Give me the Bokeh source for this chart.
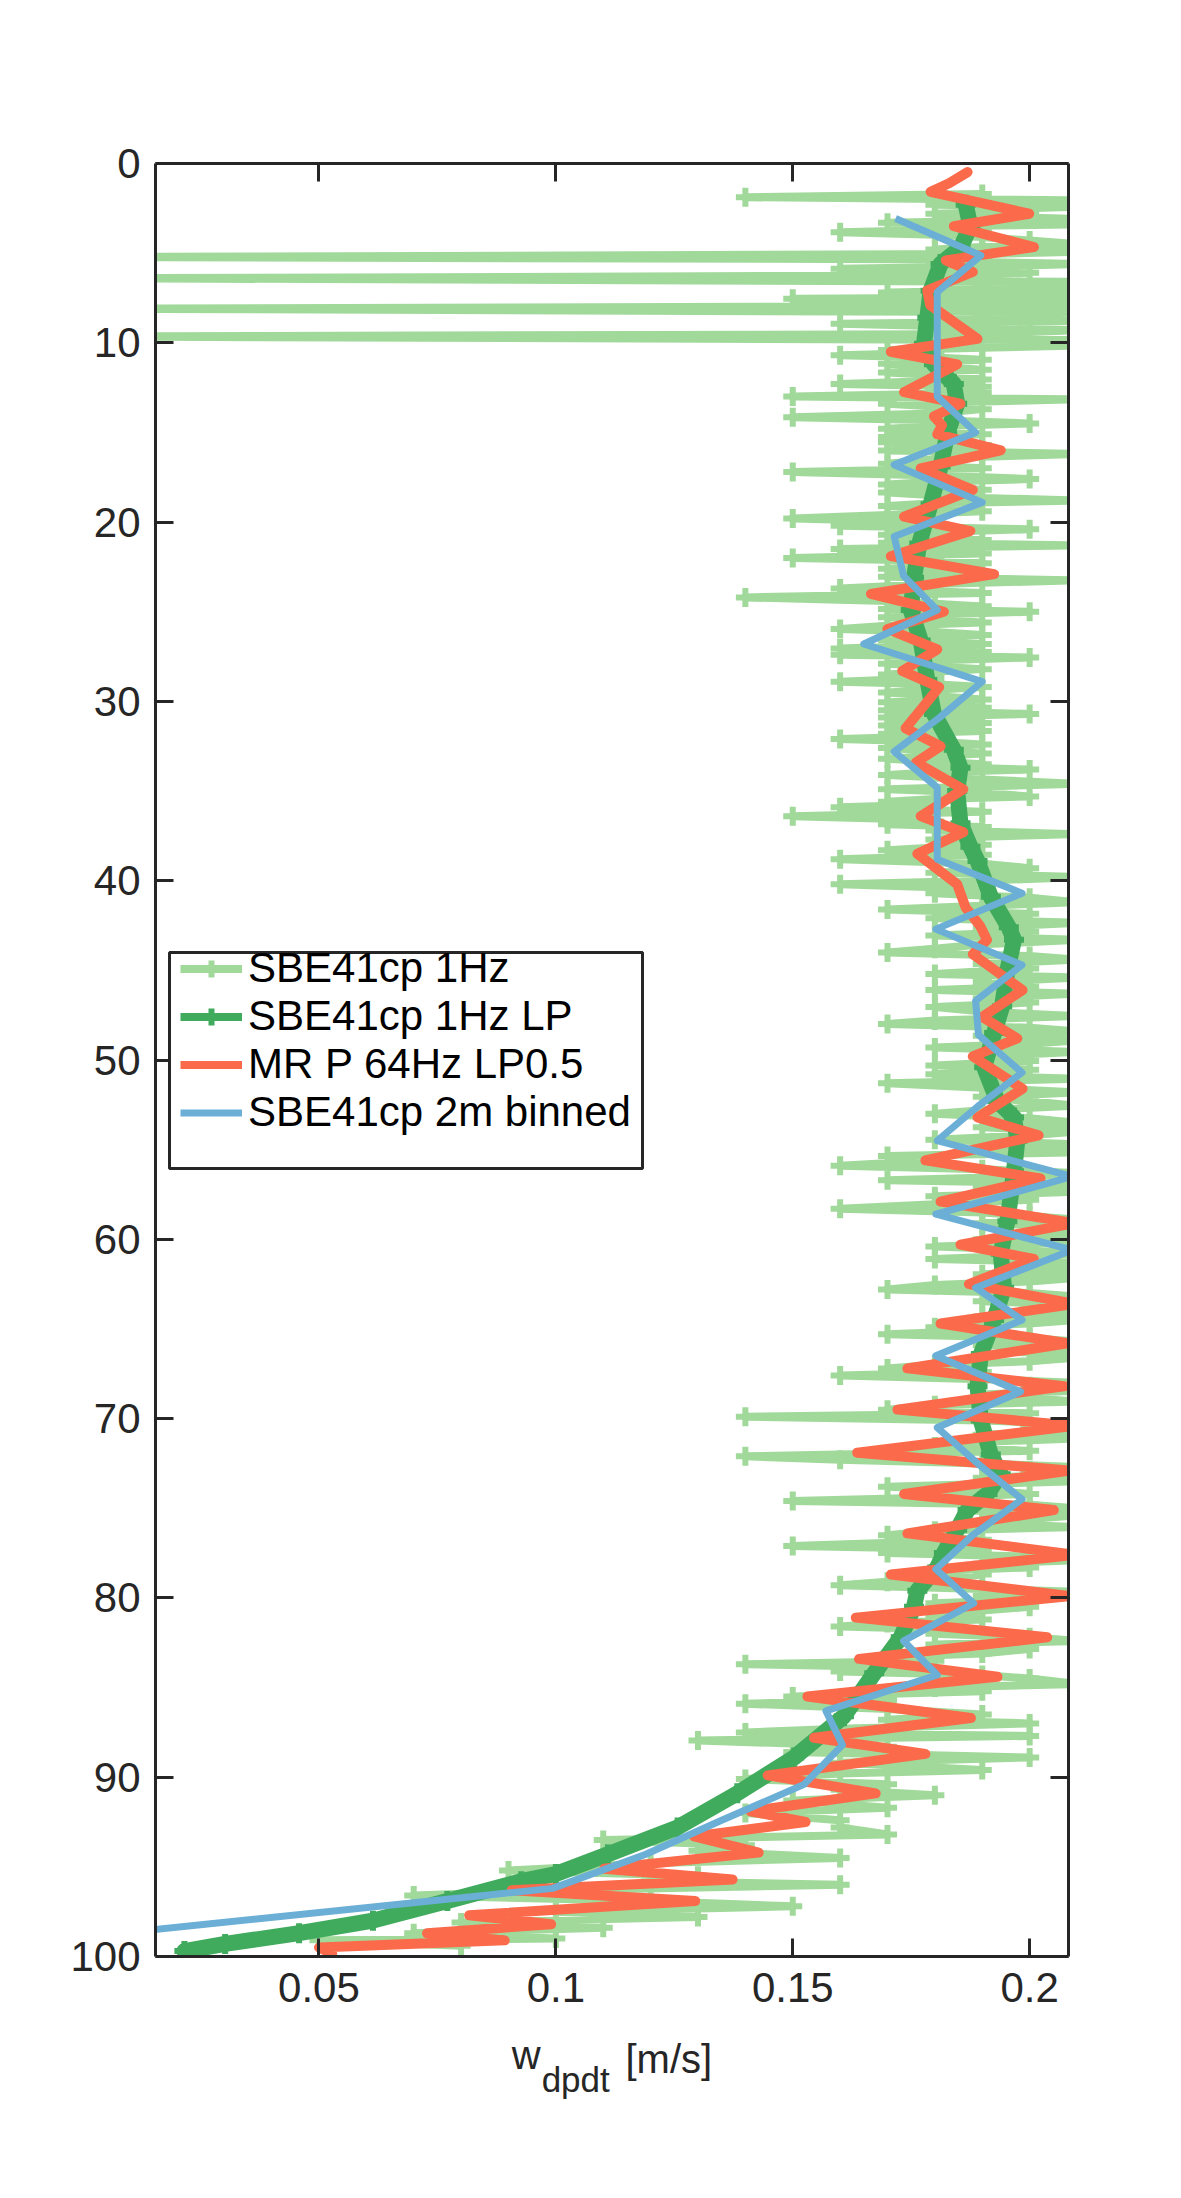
from bokeh.plotting import figure
from bokeh.layouts import column
from bokeh.models import (Range1d, FixedTicker, LinearAxis, CustomJSTickFormatter,
                          Legend, LegendItem, BoxAnnotation, ColumnDataSource)
from bokeh.core.properties import value
from bokeh.embed import file_html
from bokeh.resources import INLINE

# ---------------- data ----------------
# SBE41cp 1Hz : depth [m] and w_dpdt [m/s]  (0.0 = far off the left edge)
LG_DEPTH = [
    1.70, 1.88, 2.06, 2.18, 2.30, 2.42, 2.55, 2.68, 2.80, 2.95,
    3.10, 3.20, 3.30, 3.40, 3.50, 3.66, 3.83, 3.97, 4.10, 4.30,
    4.50, 4.65, 4.80, 4.92, 5.05, 5.22, 5.35, 5.45, 5.60, 5.75,
    5.87, 6.00, 6.10, 6.25, 6.40, 6.60, 6.72, 6.85, 7.02, 7.20,
    7.32, 7.45, 7.55, 7.65, 7.75, 7.85, 7.95, 8.10, 8.30, 8.45,
    8.60, 8.78, 8.94, 9.07, 9.20, 9.30, 9.40, 9.52, 9.65, 9.85,
    10.15, 10.28, 10.40, 10.55, 10.70, 10.82, 10.95, 11.17, 11.33, 11.50,
    11.65, 11.80, 12.05, 12.30, 12.45, 12.60, 12.80, 13.00, 13.15, 13.40,
    13.55, 13.70, 13.95, 14.15, 14.32, 14.50, 14.65, 14.80, 14.95, 15.10,
    15.25, 15.40, 15.55, 15.70, 15.85, 16.00, 16.20, 16.35, 16.50, 16.75,
    17.00, 17.20, 17.40, 17.60, 17.75, 17.90, 18.05, 18.20, 18.35, 18.50,
    18.65, 18.80, 18.95, 19.10, 19.25, 19.40, 19.60, 19.80, 20.00, 20.20,
    20.40, 20.55, 20.70, 20.85, 21.00, 21.15, 21.30, 21.50, 21.75, 22.00,
    22.15, 22.30, 22.45, 22.60, 22.75, 22.90, 23.05, 23.25, 23.45, 23.70,
    23.95, 24.20, 24.40, 24.55, 24.70, 24.85, 25.00, 25.15, 25.30, 25.45,
    25.60, 25.78, 25.96, 26.13, 26.30, 26.45, 26.60, 26.80, 27.05, 27.25,
    27.40, 27.55, 27.72, 27.90, 28.05, 28.20, 28.35, 28.50, 28.70, 28.90,
    29.05, 29.20, 29.35, 29.50, 29.70, 29.90, 30.05, 30.20, 30.35, 30.50,
    30.70, 30.90, 31.05, 31.20, 31.35, 31.50, 31.65, 31.80, 31.95, 32.10,
    32.25, 32.40, 32.60, 32.75, 32.90, 33.05, 33.20, 33.35, 33.50, 33.65,
    33.80, 33.95, 34.10, 34.35, 34.60, 34.75, 34.90, 35.10, 35.30, 35.45,
    35.60, 35.75, 35.90, 36.15, 36.40, 36.55, 36.70, 36.85, 37.00, 37.20,
    37.40, 37.55, 37.70,
    38.00, 38.30, 38.55, 38.80, 39.05, 39.30, 39.55, 39.80, 40.00, 40.20,
    40.45, 40.70, 40.95, 41.20, 41.40, 41.60, 41.85, 42.10, 42.35, 42.60,
    42.85, 43.05, 43.30, 43.55, 43.80, 44.00, 44.20, 44.40, 44.65, 44.90,
    45.20, 45.40, 45.65, 45.90, 46.10, 46.30, 46.55, 46.80, 47.05, 47.30,
    47.55, 47.80, 47.99, 48.20, 48.40, 48.65, 48.90, 49.10, 49.30, 49.55,
    49.80, 50.05, 50.30, 50.55, 50.80, 51.05, 51.30, 51.55, 51.80, 52.05,
    52.30, 52.55, 52.80, 53.00, 53.25, 53.50, 53.75, 54.00, 54.20, 54.45,
    54.70, 54.95, 55.15, 55.35, 55.60, 55.90, 56.10, 56.30, 56.50, 56.70,
    56.90, 57.10, 57.35, 57.60, 57.80, 58.05, 58.30, 58.50, 58.70, 58.90,
    59.10, 59.30, 59.55, 59.80, 60.00, 60.20, 60.40, 60.60, 60.80, 61.10,
    61.30, 61.50, 61.75, 61.95, 62.15, 62.35, 62.55, 62.80, 63.00, 63.20,
    63.45, 63.65, 63.85, 64.10, 64.30, 64.50, 64.70, 64.90, 65.10, 65.30,
    65.50, 65.70, 65.90, 66.10, 66.35, 66.60, 66.80, 67.00, 67.20, 67.40,
    67.60, 67.80, 68.00, 68.20, 68.45, 68.65, 68.85, 69.05, 69.25, 69.50,
    69.70, 69.90, 70.10, 70.30, 70.50, 70.70, 70.90, 71.10, 71.30, 71.55,
    71.80, 72.10, 72.30, 72.50, 72.70, 72.90, 73.10, 73.30, 73.50, 73.80,
    74.00, 74.20, 74.40, 74.60, 74.80, 75.00, 75.20, 75.40, 75.60, 75.85,
    76.05, 76.25, 76.50, 76.75, 77.10, 77.30, 77.50, 77.70, 77.90, 78.10,
    78.30, 78.50, 78.70, 78.95, 79.10, 79.30, 79.50, 79.65, 79.90, 80.10,
    80.30, 80.50, 80.70, 80.95, 81.20, 81.40, 81.60, 81.80, 82.00, 82.20,
    82.40, 82.60, 82.85, 83.10, 83.30, 83.50, 83.70, 83.90, 84.10, 84.30,
    84.50, 84.80, 85.00, 85.20, 85.50, 85.70, 85.90,
    86.20, 86.50, 86.80, 87.00, 87.30, 87.50, 87.70, 87.95, 88.30, 88.60,
    88.90, 89.20, 89.60, 89.80, 90.10, 90.40, 90.70, 91.00, 91.30, 91.70,
    92.00, 92.40, 92.80, 93.20, 93.50, 93.80, 94.10, 94.50, 94.80, 95.20,
    95.50, 95.80, 96.00, 96.30, 96.60, 96.90, 97.20, 97.50, 97.80, 98.10,
    98.40, 98.70, 99.00, 99.10, 99.40,
]
LG_W = [
    .19, .14, .21, .19, .18, .21, .19, .20, .18, .19,
    .21, .19, .17, .21, .18, .19, .16, .18, .19, .20,
    .21, .19, .18, .21, .19, 0.0, .19, .18, .21, .19,
    .16, .19, .20, .18, 0.0, .21, .19, .18, .21, .17,
    .19, .21, .15, .18, .19, .21, .20, 0.0, .21, .19,
    .18, .21, .16, .18, .19, .21, .20, .18, 0.0, .21,
    .21, .19, .17, .18, .16, .18, .19, .17, .18, .19,
    .17, .18, .19, .16, .19, .18, .19, .15, .21, .17,
    .18, .19, .18, .15, .18, .20, .18, .17, .18, .19,
    .17, .18, .17, .19, .18, .17, .21, .19, .18, .17,
    .19, .15, .18, .20, .18, .17, .18, .19, .17, .18,
    .19, .21, .18, .17, .18, .19, .17, .15, .18, .16,
    .20, .18, .17, .18, .19, .17, .21, .16, .19, .15,
    .18, .19, .18, .17, .18, .19, .17, .21, .18, .16,
    .19, .14, .17, .18, .19, .17, .20, .18, .17, .18,
    .19, .17, .16, .18, .19, .18, .17, .19, .16, .19,
    .16, .20, .18, .17, .18, .19, .18, .17, .18, .16,
    .18, .19, .18, .17, .18, .19, .17, .18, .19, .17,
    .20, .17, .18, .19, .17, .18, .19, .17, .18, .16,
    .18, .19, .17, .18, .19, .18, .17, .18, .19, .18,
    .20, .18, .17, .19, .21, .19, .17, .19, .20, .18,
    .17, .18, .16, .19, .15, .17, .18, .17, .19, .18,
    .21, .19, .18,
    .19, .17, .19, .16, .19, .20, .18, .21, .19, .16,
    .19, .18, .20, .21, .19, .17, .20, .18, .21, .19,
    .20, .18, .21, .19, .18, .17, .20, .21, .19, .20,
    .18, .21, .19, .20, .18, .21, .19, .20, .18, .19,
    .21, .18, .17, .20, .21, .19, .21, .20, .18, .21,
    .19, .20, .18, .20, .18, .21, .17, .19, .21, .19,
    .20, .21, .19, .18, .20, .21, .19, .21, .20, .18,
    .21, .19, .21, .17, .18, .16, .19, .21, .20, .17,
    .21, .19, .21, .18, .20, .18, .16, .19, .20, .21,
    .19, .21, .20, .21, .19, .21, .18, .20, .21, .18,
    .21, .20, .21, .19, .21, .20, .18, .17, .20, .21,
    .19, .21, .20, .21, .19, .21, .20, .18, .19, .17,
    .20, .21, .19, .21, .20, .21, .20, .18, .17, .19,
    .16, .19, .21, .20, .21, .19, .20, .21, .18, .17,
    .20, .14, .19, .21, .20, .21, .19, .21, .19, .18,
    .20, .14, .16, .19, .21, .20, .21, .19, .21, .17,
    .19, .20, .18, .15, .20, .21, .19, .21, .20, .19,
    .21, .18, .17, .19, .15, .19, .17, .20, .21, .19,
    .20, .18, .19, .18, .17, .16, .19, .21, .19, .20,
    .18, .20, .19, .18, .19, .17, .16, .19, .18, .20,
    .21, .18, .20, .19, .17, .18, .14, .18, .16, .19,
    .20, .21, .18, .19, .15, .17, .14,
    .17, .19, .17, .20, .16, .14, .20, .13, .17, .15,
    .20, .16, .19, .16, .14, .17, .16, .18, .15, .17,
    .14, .16, .16, .17, .11, .14, .13, .16, .12, .09,
    .13, .12, .16, .10, .07, .12, .15, .10, .13, .08,
    .11, .07, .10, .05, .08,
]
assert len(LG_DEPTH) == len(LG_W)

# SBE41cp 1Hz LP
LP_DEPTH = [2.3, 3.5, 4.7, 5.6, 7.1, 8.6, 10.05, 11.2, 12.3, 13.4,
            15.1, 16.9, 19.0, 21.2, 23.1, 24.9, 26.6, 28.8, 30.7, 32.7,
            33.7, 35.0, 36.8, 38.1, 38.9, 40.9, 42.6, 43.3, 45.0, 47.0,
            48.5, 50.4, 52.3, 53.2, 54.5, 56.2, 59.0, 60.8, 62.7, 64.5,
            66.4, 68.2, 70.1, 72.0, 73.1, 74.2, 75.1, 76.2, 77.5, 78.3,
            79.6, 80.5, 82.2, 84.2, 86.6, 88.9, 90.9, 92.8, 94.3, 95.4,
            95.8, 96.9, 98.0, 98.7, 99.3, 99.7]
LP_W = [0.1865, 0.1875, 0.1854, 0.1812, 0.1791, 0.1784, 0.1777, 0.1798, 0.1840, 0.1847,
        0.1826, 0.1812, 0.1791, 0.1767, 0.1756, 0.1749, 0.1770, 0.1784, 0.1798, 0.1840,
        0.1854, 0.1847, 0.1854, 0.1875, 0.1890, 0.1918, 0.1956, 0.1967, 0.1953, 0.1942,
        0.1925, 0.1904, 0.1932, 0.1967, 0.1974, 0.1967, 0.1953, 0.1939, 0.1946, 0.1925,
        0.1897, 0.1890, 0.1897, 0.1918, 0.1939, 0.1911, 0.1869, 0.1847, 0.1819, 0.1805,
        0.1763, 0.1756, 0.1728, 0.1672, 0.1608, 0.1503, 0.1383, 0.1257, 0.1110, 0.1000,
        0.0927, 0.0771, 0.0614, 0.0458, 0.0302, 0.0216]

# MR P 64Hz LP0.5
MR_DEPTH = [0.48, 1.10, 1.58, 2.80, 3.50, 4.66, 5.40, 6.05, 7.08, 7.90,
            9.78, 10.50, 11.20, 12.75, 13.40, 14.10, 14.60, 15.10, 16.00, 17.00,
            18.20, 19.70, 20.50, 21.90, 22.90, 24.00, 25.00, 25.96, 27.10, 28.30,
            29.20, 31.50, 32.50, 33.40, 34.90, 36.40, 37.30, 38.50, 40.20, 41.50,
            42.50, 43.30, 44.10, 46.10, 47.60, 48.80, 49.80, 51.60, 53.20, 54.20,
            55.60, 56.60, 57.90, 59.10, 60.30, 61.10, 62.50, 63.60, 64.70, 65.80,
            67.20, 68.20, 69.50, 70.40, 71.90, 72.90, 74.20, 75.10, 76.40, 77.60,
            78.70, 79.90, 81.10, 82.20, 83.40, 84.40, 85.50, 86.70, 87.80, 88.70,
            89.90, 90.90, 91.90, 92.50, 93.30, 94.20, 95.10, 95.70, 96.30, 96.90,
            97.70, 98.20, 98.70, 99.10, 99.50, 99.85]
MR_W = [0.1869, 0.1830, 0.1791, 0.1999, 0.1840, 0.2009, 0.1823, 0.1880, 0.1784, 0.1790,
        0.1890, 0.1707, 0.1847, 0.1735, 0.1854, 0.1798, 0.1815, 0.1805, 0.1939, 0.1770,
        0.1880, 0.1735, 0.1875, 0.1707, 0.1925, 0.1665, 0.1819, 0.1700, 0.1805, 0.1731,
        0.1809, 0.1738, 0.1812, 0.1760, 0.1860, 0.1770, 0.1860, 0.1763, 0.1847, 0.1865,
        0.1895, 0.1910, 0.1880, 0.1985, 0.1900, 0.1974, 0.1880, 0.1985, 0.1890, 0.2019,
        0.1780, 0.2023, 0.1812, 0.2095, 0.1854, 0.2009, 0.1872, 0.2095, 0.1812, 0.2080,
        0.1742, 0.2072, 0.1721, 0.2095, 0.1636, 0.2085, 0.1735, 0.2051, 0.1742, 0.2095,
        0.1707, 0.2085, 0.1633, 0.2037, 0.1640, 0.1932, 0.1531, 0.1876, 0.1545, 0.1780,
        0.1447, 0.1675, 0.1411, 0.1527, 0.1292, 0.1428, 0.1102, 0.1373, 0.0907, 0.1294,
        0.0817, 0.0990, 0.0728, 0.0892, 0.0500, 0.0528]

# SBE41cp 2m binned
BIN_DEPTH = [3.07, 5.13, 7.17, 9.10, 11.05, 13.00, 15.00, 16.80, 18.90, 20.80,
             23.00, 24.90, 26.80, 28.90, 30.90, 32.80, 34.80, 36.80, 38.80, 40.70,
             42.70, 44.70, 46.70, 48.60, 50.70, 52.60, 54.50, 56.50, 58.60, 60.60,
             62.70, 64.50, 66.50, 68.50, 70.50, 72.50, 74.50, 76.50, 78.40, 80.30,
             82.40, 84.30, 86.30, 88.20, 90.40, 92.40, 94.30, 96.20, 99.20]
BIN_W = [0.1717, 0.1897, 0.1805, 0.1805, 0.1805, 0.1805, 0.1886, 0.1714, 0.1900, 0.1714,
         0.1734, 0.1805, 0.1650, 0.1900, 0.1810, 0.1714, 0.1805, 0.1805, 0.1805, 0.1984,
         0.1802, 0.1984, 0.1886, 0.1892, 0.1984, 0.1890, 0.1805, 0.2090, 0.1802, 0.2090,
         0.1886, 0.1984, 0.1802, 0.1981, 0.1805, 0.1890, 0.1984, 0.1880, 0.1802, 0.1882,
         0.1734, 0.1805, 0.1570, 0.1605, 0.1524, 0.1350, 0.1190, 0.0993, -0.0103]

X_TICKS = [0.05, 0.1, 0.15, 0.2]
Y_TICKS = [0, 10, 20, 30, 40, 50, 60, 70, 80, 90, 100]
LABELS = ["SBE41cp 1Hz", "SBE41cp 1Hz LP", "MR P 64Hz LP0.5", "SBE41cp 2m binned"]
XLABEL_PARTS = ["w", "dpdt", "[m/s]"]

# ---------------- styling ----------------
FONT = "Liberation Sans"
AX = "#262626"
C_LG = "#a1d99b"
C_DG = "#41ab5d"
C_RED = "#fb6a4a"
C_BLUE = "#6baed6"

BL, BR, BT, BB = 155, 100, 163, 75     # borders around the frame (page px)
FW, FH = 913, 1793                      # frame size

xr = Range1d(0.0155, 0.2082)
p = figure(frame_width=FW, frame_height=FH,
           x_range=xr, y_range=Range1d(100, 0),
           output_backend="svg", toolbar_location=None,
           min_border_left=BL, min_border_top=BT,
           min_border_right=BR, min_border_bottom=BB)
p.grid.visible = False
p.outline_line_color = None
p.background_fill_color = "white"
p.border_fill_color = "white"

xt = FixedTicker(ticks=X_TICKS)
yt = FixedTicker(ticks=Y_TICKS)


def style_axis(ax):
    ax.axis_line_width = 3
    ax.axis_line_color = AX
    ax.major_tick_line_width = 3
    ax.major_tick_line_color = AX
    ax.major_tick_in = 18
    ax.major_tick_out = 0
    ax.minor_tick_line_color = None
    ax.major_label_text_font = FONT
    ax.major_label_text_font_size = "42px"
    ax.major_label_text_color = AX
    ax.axis_label = None
    ax.axis_label_standoff = 0


xa = p.xaxis[0]
xa.ticker = xt
xa.formatter = CustomJSTickFormatter(code="return tick.toFixed(2).replace(/0+$/, '');")
style_axis(xa)
xa.major_label_standoff = 16

ya = p.yaxis[0]
ya.ticker = yt
style_axis(ya)
ya.major_label_standoff = 15

blank = CustomJSTickFormatter(code="return '';")
top = LinearAxis(ticker=xt, formatter=blank)
style_axis(top)
p.add_layout(top, "above")
right = LinearAxis(ticker=yt, formatter=blank)
style_axis(right)
p.add_layout(right, "right")

# ---------------- data glyphs ----------------
p.line(LG_W, LG_DEPTH, line_color=C_LG, line_width=8, line_join="round")
p.scatter(LG_W, LG_DEPTH, marker="cross", size=19, line_color=C_LG, line_width=6)

p.line(LP_W, LP_DEPTH, line_color=C_DG, line_width=16, line_join="round", line_cap="round")
p.scatter(LP_W, LP_DEPTH, marker="cross", size=20, line_color=C_DG, line_width=6)

p.line(MR_W, MR_DEPTH, line_color=C_RED, line_width=10, line_join="round", line_cap="round")

p.line(BIN_W, BIN_DEPTH, line_color=C_BLUE, line_width=7, line_join="round")

# ---------------- legend ----------------
nan = float("nan")
proxy = ColumnDataSource(dict(x=[nan], y=[nan]))
l1 = p.line("x", "y", source=proxy, line_color=C_LG, line_width=8)
m1 = p.scatter("x", "y", source=proxy, marker="cross", size=18, line_color=C_LG, line_width=6)
l2 = p.line("x", "y", source=proxy, line_color=C_DG, line_width=8)
m2 = p.scatter("x", "y", source=proxy, marker="cross", size=18, line_color=C_DG, line_width=6)
l3 = p.line("x", "y", source=proxy, line_color=C_RED, line_width=8)
l4 = p.line("x", "y", source=proxy, line_color=C_BLUE, line_width=7)

box = BoxAnnotation(left=14, right=487, bottom=788, top=1004,
                    left_units="screen", right_units="screen",
                    bottom_units="screen", top_units="screen",
                    fill_color="white", fill_alpha=1.0,
                    line_color=AX, line_width=3, line_alpha=1.0)
p.add_layout(box)

legend = Legend(items=[LegendItem(label=value(LABELS[0]), renderers=[l1, m1]),
                       LegendItem(label=value(LABELS[1]), renderers=[l2, m2]),
                       LegendItem(label=value(LABELS[2]), renderers=[l3]),
                       LegendItem(label=value(LABELS[3]), renderers=[l4])],
                location=(25, 820), orientation="vertical",
                glyph_width=62, glyph_height=43, label_height=43,
                label_standoff=6, spacing=0, padding=0, margin=0,
                border_line_color=None, background_fill_alpha=0.0,
                label_text_font=FONT, label_text_font_size="42px",
                label_text_color="black")
p.add_layout(legend, "center")

# ---------------- x-axis label  w_dpdt [m/s] (own strip below the plot) ----------------
LH = 130
lab = figure(frame_width=FW, frame_height=LH, x_range=xr, y_range=Range1d(LH, 0),
             title=None, output_backend="svg", toolbar_location=None,
             min_border_left=BL, min_border_right=BR, min_border_top=0, min_border_bottom=0,
             x_axis_type=None, y_axis_type=None)
lab.grid.visible = False
lab.outline_line_color = None
lab.background_fill_color = "white"
lab.border_fill_color = "white"
# x in data units of the main axis, y in px from the top of the strip
lab.text(x=[0.0907, 0.1147], y=[23, 27], text=[XLABEL_PARTS[0], XLABEL_PARTS[2]],
         text_font=value(FONT), text_font_size=value("40px"), text_color=AX,
         text_align="left", text_baseline="alphabetic")
lab.text(x=[0.0970], y=[48], text=[XLABEL_PARTS[1]],
         text_font=value(FONT), text_font_size=value("35px"), text_color=AX,
         text_align="left", text_baseline="alphabetic")

layout = column(p, lab, spacing=0)
open("out.html", "w").write(file_html(layout, INLINE))
